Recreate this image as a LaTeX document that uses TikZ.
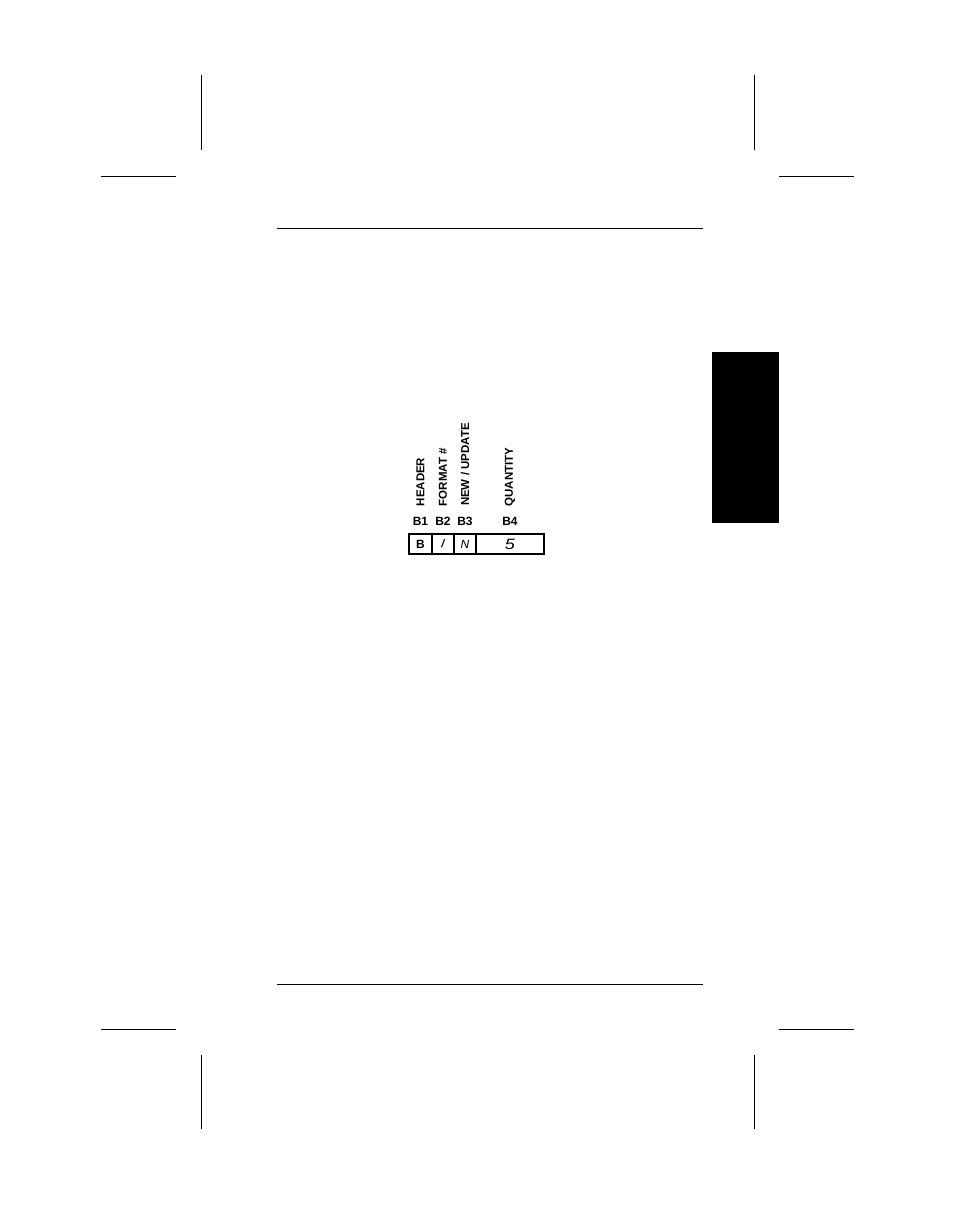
\documentclass[tikz,border=0pt]{standalone}
\usepackage{fontspec}
\setmainfont{Liberation Sans}
\usepackage{tikz}
\usetikzlibrary{arrows,calc,positioning}

\begin{document}
\begin{tikzpicture}[x=1pt,y=-1pt,line width=1pt]
\tikzstyle{cell} = [draw, rectangle, line width=1.3pt, outer sep=0pt, inner sep=0pt, minimum height=20pt]
\tikzstyle{field} = [inner sep=0pt, font=\fontsize{12}{14}\selectfont\bfseries]
\tikzstyle{title} = [inner sep=0pt, rotate=90, anchor=west, font=\fontsize{11.5}{14}\selectfont\bfseries]
\tikzstyle{hand} = [font=\fontsize{11}{13}\selectfont\itshape]

\useasboundingbox (0,0) rectangle (954,1205);

% crop marks and rules
\draw (201,75) -- (201,150);
\draw (101,176) -- (176,176);
\draw (754,75) -- (754,150);
\draw (779,176) -- (854,176);
\draw (201,1055) -- (201,1129);
\draw (101,1029) -- (176,1029);
\draw (754,1055) -- (754,1129);
\draw (779,1029) -- (854,1029);
\draw (277,228) -- (703,228);
\draw (277,984) -- (703,984);

% tab
\fill (712,352) rectangle (779,523);

% record
\node [cell, minimum width=23pt, anchor=north west] (c1) at (409,534) {\fontsize{12}{14}\selectfont\bfseries B};
\node [cell, minimum width=22pt, right = 0pt of c1] (c2) {};
\node [cell, minimum width=22pt, right = 0pt of c2] (c3) {};
\node [cell, minimum width=68pt, right = 0pt of c3] (c4) {};

\node [hand] at (c2.center) {\bfseries /};
\node [hand, font=\fontsize{12}{14}\selectfont\itshape] at (c3.center) {N};
\node [hand, font=\fontsize{15}{17}\selectfont\itshape, xscale=1.2] at (c4.center) {5};

\node [field, above = 8pt of c1] (b1) {B1};
\node [field, above = 8pt of c2] (b2) {B2};
\node [field, above = 8pt of c3] (b3) {B3};
\node [field, above = 8pt of c4] (b4) {B4};

\node [title, above = 10pt of b1, anchor=west] (header) {HEADER};
\node [title, above = 10pt of b2, anchor=west] (format) {FORMAT \#};
\node [title, above = 10pt of b3, anchor=west] (update) {NEW / UPDATE};
\node [title, above = 10pt of b4, anchor=west] (qty) {QUANTITY};
\end{tikzpicture}
\end{document}
